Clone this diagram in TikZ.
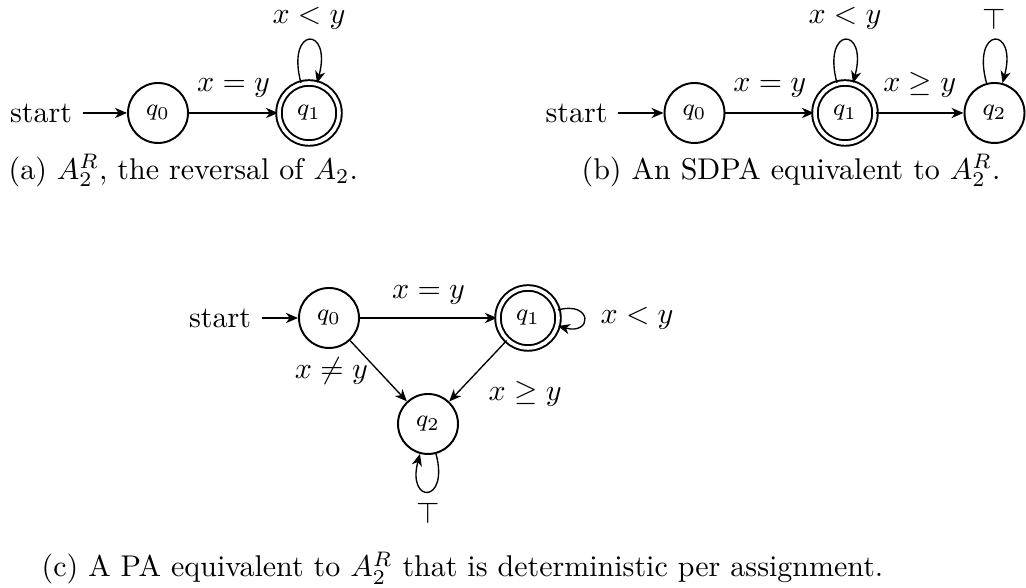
\documentclass[tikz,border=0pt]{standalone}
\usetikzlibrary{arrows.meta}
\begin{document}
\begin{tikzpicture}[x=0.33333pt,y=0.33333pt,
  st/.style={circle,draw,line width=0.65pt,minimum size=20pt,inner sep=0pt,font=\footnotesize},
  acc/.style={st,double,double distance=1.2pt},
  tr/.style={line width=0.45pt,-{Stealth[length=4pt,width=3.4pt,inset=1.2pt]}},
  captext/.style={anchor=base west,inner sep=0pt}]
\useasboundingbox (0,0) rectangle (1026,588);
% (a)
\node (sa) at (41,475) {start};
\node[st] (qa0) at (158,475) {$q_0$};
\node[acc] (qa1) at (309,475) {$q_1$};
\draw[tr] (sa) -- (qa0);
\draw[tr] (qa0) -- node[above=1.5pt] {$x=y$} (qa1);
\draw[tr] (qa1) to[out=105,in=75,looseness=9.5,min distance=0pt] node[above] {$x<y$} (qa1);
\node[captext] (capa) at (8,408.5) {(a) $A_2^R$, the reversal of $A_2$.};
% (b)
\node (sb) at (576.5,475) {start};
\node[st] (qb0) at (694.5,475) {$q_0$};
\node[acc] (qb1) at (845,475) {$q_1$};
\node[st] (qb2) at (994.5,475) {$q_2$};
\draw[tr] (sb) -- (qb0);
\draw[tr] (qb0) -- node[above=1.5pt] {$x=y$} (qb1);
\draw[tr] (qb1) -- node[above=1.5pt] {$x\geq y$} (qb2);
\draw[tr] (qb1) to[out=105,in=75,looseness=9.5,min distance=0pt] node[above] {$x<y$} (qb1);
\draw[tr] (qb2) to[out=105,in=75,looseness=9.5,min distance=0pt] node[above] {$\top$} (qb2);
\node[captext] (capb) at (581,408.5) {(b) An SDPA equivalent to $A_2^R$.};
% (c)
\node (sc) at (220,270) {start};
\node[st] (qc0) at (329,270) {$q_0$};
\node[acc] (qc1) at (528,270) {$q_1$};
\node[st] (qc2) at (428,164) {$q_2$};
\draw[tr] (sc) -- (qc0);
\draw[tr] (qc0) -- node[above=1pt] {$x=y$} (qc1);
\draw[tr] (qc0) -- node[left] {$x\neq y$} (qc2);
\draw[tr] (qc1) -- node[below right] {$x\geq y$} (qc2);
\draw[tr] (qc1) to[out=15,in=-15,looseness=5.75,min distance=0pt] node[right=2pt] {$x<y$} (qc1);
\draw[tr] (qc2) to[out=-75,in=-105,looseness=8.3,min distance=0pt] node[below] {$\top$} (qc2);
\node[captext] (capc) at (41,11) {(c) A PA equivalent to $A_2^R$ that is deterministic per assignment.};
\end{tikzpicture}
\end{document}
